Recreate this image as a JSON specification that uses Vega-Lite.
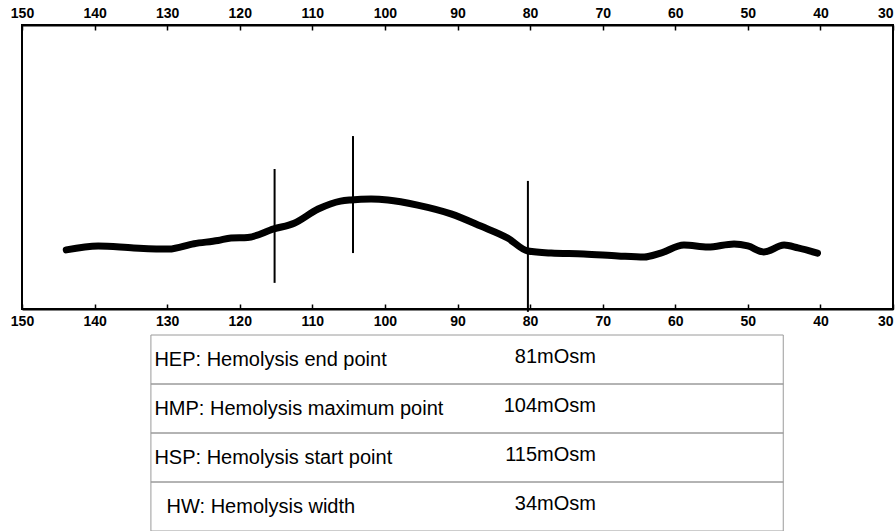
{
  "$schema": "https://vega.github.io/schema/vega-lite/v6.json",
  "background": "white",
  "padding": {"left": 9, "top": 0, "right": 0, "bottom": 0},
  "bounds": "flush",
  "spacing": 26,
  "config": {"view": {"stroke": null}},
  "datasets": {
    "curve": [
      {"osm": 143.9, "h": 20.8}, {"osm": 139.5, "h": 22.2}, {"osm": 134.6, "h": 21.5}, {"osm": 129.8, "h": 21.1},
      {"osm": 126.3, "h": 23.0}, {"osm": 123.0, "h": 24.1}, {"osm": 121.2, "h": 25.0}, {"osm": 118.9, "h": 25.2},
      {"osm": 115.3, "h": 28.2}, {"osm": 112.5, "h": 30.2}, {"osm": 109.2, "h": 35.2}, {"osm": 106.1, "h": 38.0},
      {"osm": 104.7, "h": 38.4}, {"osm": 101.9, "h": 38.7}, {"osm": 99.6, "h": 38.4}, {"osm": 95.5, "h": 36.6},
      {"osm": 90.9, "h": 33.5}, {"osm": 86.8, "h": 29.2}, {"osm": 83.1, "h": 25.0}, {"osm": 80.3, "h": 20.4},
      {"osm": 77.1, "h": 19.7}, {"osm": 72.6, "h": 19.4}, {"osm": 67.9, "h": 18.7}, {"osm": 64.3, "h": 18.3},
      {"osm": 62.0, "h": 19.7}, {"osm": 58.8, "h": 22.5}, {"osm": 55.5, "h": 21.8}, {"osm": 51.9, "h": 22.9},
      {"osm": 50.0, "h": 22.2}, {"osm": 47.8, "h": 20.1}, {"osm": 45.0, "h": 22.5}, {"osm": 43.1, "h": 21.5},
      {"osm": 40.4, "h": 19.7}
    ],
    "markers": [
      {"osm": 115.2, "top": 49.3, "bottom": 9.2},
      {"osm": 104.4, "top": 60.9, "bottom": 19.7},
      {"osm": 80.3, "top": 45.1, "bottom": -1}
    ],
    "table": [
      {"row": 1, "label": "HEP: Hemolysis end point", "value": "81mOsm"},
      {"row": 2, "label": "HMP: Hemolysis maximum point", "value": "104mOsm"},
      {"row": 3, "label": "HSP: Hemolysis start point", "value": "115mOsm"},
      {"row": 4, "label": "HW: Hemolysis width", "value": "34mOsm"}
    ]
  },
  "vconcat": [
    {
      "width": 871,
      "height": 284,
      "view": {"stroke": "black", "strokeWidth": 2},
      "layer": [
        {
          "data": {"name": "curve"},
          "mark": {"type": "line", "color": "black", "strokeWidth": 7, "strokeCap": "round", "strokeJoin": "round", "interpolate": "monotone"},
          "encoding": {
            "x": {
              "field": "osm", "type": "quantitative",
              "scale": {"domain": [30, 150], "reverse": true, "nice": false, "zero": false},
              "axis": {
                "orient": "bottom", "title": null, "values": [150, 140, 130, 120, 110, 100, 90, 80, 70, 60, 50, 40, 30],
                "grid": false, "domainColor": "black", "domainWidth": 2, "tickColor": "black", "tickWidth": 1.5,
                "tickSize": -5, "labelPadding": 10, "labelFont": "Liberation Sans", "labelFontSize": 14,
                "labelFontWeight": "bold", "labelColor": "black", "labelFlush": false, "labelOverlap": false,
                "labelAlign": {"condition": {"test": "datum.value == 30", "value": "right"}, "value": "center"}
              }
            },
            "y": {"field": "h", "type": "quantitative", "scale": {"domain": [0, 100], "nice": false, "zero": false}, "axis": null}
          }
        },
        {
          "data": {"name": "markers"},
          "mark": {"type": "rule", "color": "black", "strokeWidth": 2},
          "encoding": {
            "x": {
              "field": "osm", "type": "quantitative",
              "axis": {
                "orient": "top", "title": null, "values": [150, 140, 130, 120, 110, 100, 90, 80, 70, 60, 50, 40, 30],
                "grid": false, "domainColor": "black", "domainWidth": 2, "tickColor": "black", "tickWidth": 1.5,
                "tickSize": -5, "labelPadding": 10, "labelFont": "Liberation Sans", "labelFontSize": 14,
                "labelFontWeight": "bold", "labelColor": "black", "labelFlush": false, "labelOverlap": false,
                "labelAlign": {"condition": {"test": "datum.value == 30", "value": "right"}, "value": "center"},
                "minExtent": 24, "maxExtent": 24
              }
            },
            "y": {"field": "top", "type": "quantitative"},
            "y2": {"field": "bottom"}
          }
        }
      ],
      "resolve": {"axis": {"x": "independent"}}
    },
    {
      "width": 871,
      "height": 196,
      "data": {"name": "table"},
      "encoding": {
        "y": {"field": "row", "type": "ordinal", "axis": null, "scale": {"paddingInner": 0, "paddingOuter": 0}}
      },
      "layer": [
        {
          "mark": {"type": "rect", "filled": false, "stroke": "#9a9a9a", "strokeWidth": 1},
          "encoding": {
            "x": {"datum": 14.8, "type": "quantitative", "scale": {"domain": [0, 100], "nice": false, "zero": false}, "axis": null},
            "x2": {"datum": 87.4}
          }
        },
        {
          "transform": [{"filter": "datum.row != 4"}],
          "mark": {"type": "text", "align": "left", "baseline": "middle", "font": "Liberation Sans", "fontSize": 20, "color": "black"},
          "encoding": {
            "x": {"datum": 15.2, "type": "quantitative"},
            "text": {"field": "label"}
          }
        },
        {
          "transform": [{"filter": "datum.row == 4"}],
          "mark": {"type": "text", "align": "left", "baseline": "middle", "font": "Liberation Sans", "fontSize": 20, "color": "black"},
          "encoding": {
            "x": {"datum": 16.6, "type": "quantitative"},
            "text": {"field": "label"}
          }
        },
        {
          "mark": {"type": "text", "align": "right", "baseline": "middle", "font": "Liberation Sans", "fontSize": 20, "color": "black", "dy": -3},
          "encoding": {
            "x": {"datum": 65.9, "type": "quantitative"},
            "text": {"field": "value"}
          }
        }
      ]
    }
  ]
}
